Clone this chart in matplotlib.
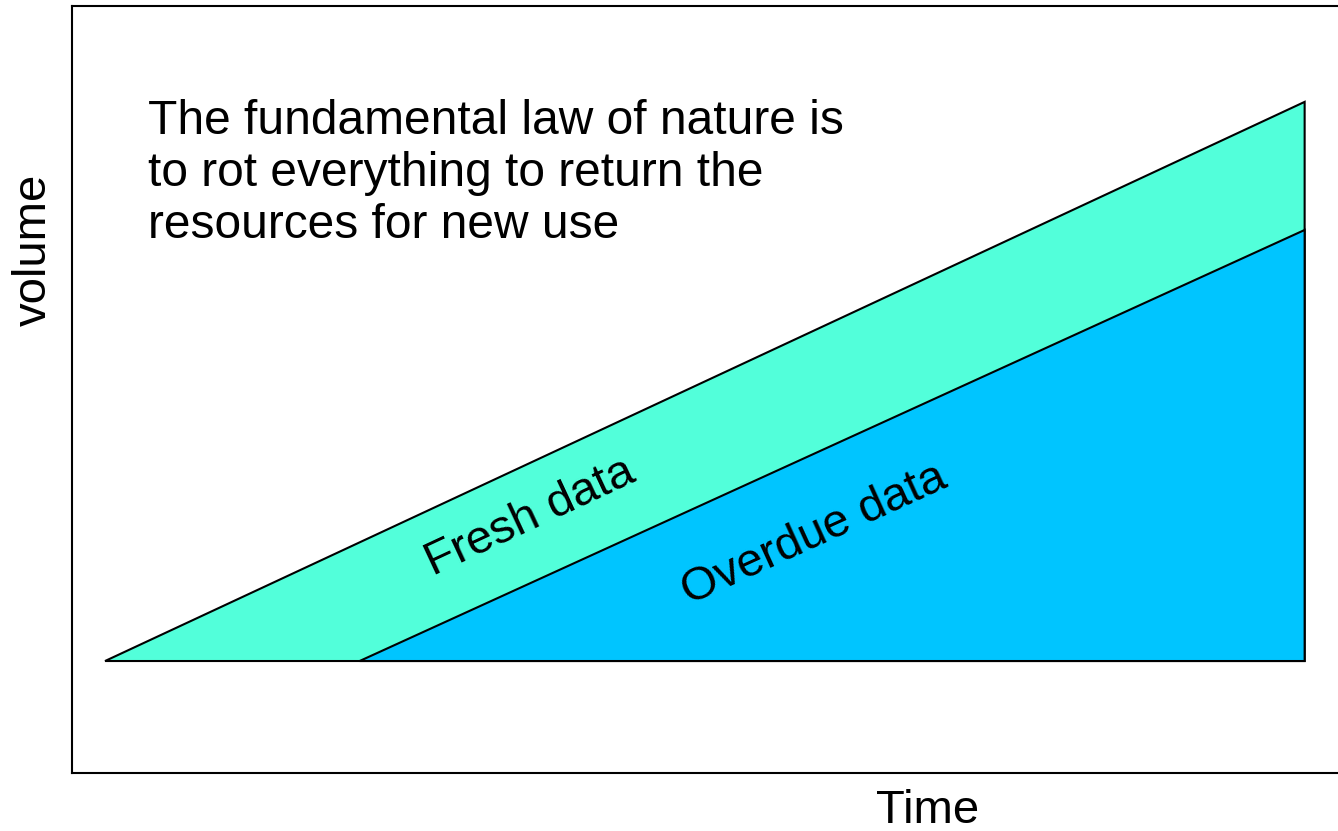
import matplotlib
matplotlib.use("Agg")
import matplotlib.pyplot as plt

plt.rcParams['font.family'] = ['Liberation Sans', 'DejaVu Sans']

# Data (arbitrary units)
fresh_time = [1.93, 72.0, 72.0]
fresh_volume = [14.6, 87.5, 14.6]
overdue_time = [16.8, 72.0, 72.0]
overdue_volume = [14.6, 70.8, 14.6]
labels = ["Fresh data", "Overdue data"]
note = "The fundamental law of nature is\nto rot everything to return the\nresources for new use"

W, H = 1338, 831
fig = plt.figure(figsize=(W / 100, H / 100), dpi=100)
ax = fig.add_axes([72 / W, (H - 773) / H, 1712 / W, 767 / H])
ax.set_xlim(0, 100)
ax.set_ylim(0, 100)
ax.set_xticks([])
ax.set_yticks([])
for s in ax.spines.values():
    s.set_linewidth(1.5)

ax.fill(fresh_time, fresh_volume, facecolor='#52FFDA', edgecolor='black', linewidth=1.5)
ax.fill(overdue_time, overdue_volume, facecolor='#00C5FF', edgecolor='black', linewidth=1.5)

fs = 34
fig.text(148 / W, 1 - 99 / H, note, ha='left', va='top', fontsize=34.5, linespacing=1.2)
fig.text(530 / W, 1 - 517 / H, labels[0], ha='center', va='center', fontsize=fs,
         rotation=25, rotation_mode='anchor')
fig.text(814 / W, 1 - 535 / H, labels[1], ha='center', va='center', fontsize=fs,
         rotation=24.5, rotation_mode='anchor')
fig.text(928 / W, 1 - 811 / H, "Time", ha='center', va='center', fontsize=fs)
fig.text(34 / W, 1 - 250 / H, "volume", ha='center', va='center', fontsize=fs, rotation=90)

fig.savefig("out.png", dpi=100)
